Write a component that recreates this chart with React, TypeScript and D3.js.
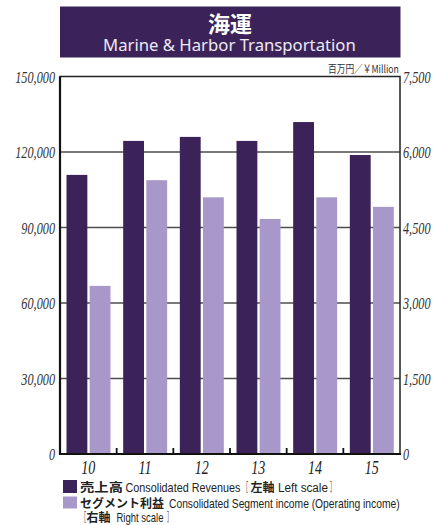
import React, { useRef, useLayoutEffect } from 'react'
import * as d3 from 'd3'

// fiscal years (x axis)
const years = ['10', '11', '12', '13', '14', '15']
// 売上高 (left scale, ¥ million)
const revenues = [110900, 124400, 126000, 124400, 131900, 118800]
// セグメント利益 (right scale, ¥ million)
const segmentIncome = [3340, 5440, 5100, 4670, 5100, 4910]

const leftTicks = [0, 30000, 60000, 90000, 120000, 150000]
const rightTicks = [0, 1500, 3000, 4500, 6000, 7500]

const DARK = '#3b2359'
const LIGHT = '#a898c9'
const NUM_FONT = '"Liberation Serif", "Times New Roman", serif'
const SANS = '"Noto Sans", "Noto Sans CJK JP", sans-serif'
const NARROW = '"Liberation Sans Narrow", "Liberation Sans", Arial, sans-serif'
const CJK = '"Noto Sans CJK JP", "Noto Sans", sans-serif'

const fmt = d3.format(',')

// italic, narrow numerals like the original print font
const NarrowNum = ({ x, y, anchor, size, children }) => (
    <text transform={`translate(${x},${y}) scale(0.72,1)`} textAnchor={anchor}
        fontFamily={NUM_FONT} fontStyle="italic" fontSize={size} fill="#333">{children}</text>
)

// text squeezed horizontally to the printed width (measured, then scaled)
const Fit = ({ x, y, w, size = 12, bold = false, font = NARROW, fill = '#222', children }) => {
    const ref = useRef(null)
    useLayoutEffect(() => {
        const el = ref.current
        const n = el.getComputedTextLength()
        if (n > 0) el.setAttribute('transform', `translate(${x},${y}) scale(${w / n},1)`)
    }, [x, y, w])
    return <text ref={ref} transform={`translate(${x},${y})`}
        fontFamily={font} fontWeight={bold ? 'bold' : 'normal'}
        fontSize={size} fill={fill}>{children}</text>
}

export default function App() {
    const width = 443, height = 525
    const left = 60, right = 400, top = 76.5, bottom = 454

    const x = d3.scaleBand().domain(years).range([left, right])
    const inner = d3.scaleBand().domain(['rev', 'inc']).range([6.5, 50.5]).paddingInner(0.1)
    const yL = d3.scaleLinear().domain([0, 150000]).range([bottom, top])
    const yR = d3.scaleLinear().domain([0, 7500]).range([bottom, top])

    return (
        <svg width={width} height={height} style={{ position: 'absolute', left: 0, top: 0 }}>
            {/* title */}
            <rect x={60} y={6.5} width={340.5} height={51} fill="#3b2359" />
            <text x={230} y={31.5} textAnchor="middle" fontFamily={CJK} fontWeight="bold" fontSize={22} fill="#fff">海運</text>
            <Fit x={103} y={51} w={253} size={16.5} font={SANS} fill="#eeeaf4">Marine &amp; Harbor Transportation</Fit>
            <Fit x={328} y={73} w={71} size={11} font={CJK} fill="#333">百万円／￥Million</Fit>

            {/* grid */}
            <g>
                {leftTicks.slice(1, -1).map(d => (
                    <line key={d} x1={left} x2={right} y1={yL(d)} y2={yL(d)} stroke="#4d4d4d" strokeWidth={1.6} />
                ))}
            </g>

            {/* bars */}
            <g>
                {years.map((yr, i) => (
                    <g key={yr}>
                        <rect x={x(yr) + inner('rev')} width={inner.bandwidth()} y={yL(revenues[i])}
                            height={bottom - yL(revenues[i])} fill={DARK} />
                        <rect x={x(yr) + inner('inc')} width={inner.bandwidth()} y={yR(segmentIncome[i])}
                            height={bottom - yR(segmentIncome[i])} fill={LIGHT} />
                    </g>
                ))}
            </g>

            {/* frame */}
            <rect x={left} y={top} width={right - left} height={bottom - top} fill="none" stroke="#222" strokeWidth={1.5} />
            <line x1={left} x2={left} y1={top} y2={bottom + 1} stroke="#111" strokeWidth={2.2} />
            <line x1={left} x2={right + 1} y1={bottom} y2={bottom} stroke="#111" strokeWidth={2.2} />
            {years.slice(1).map(yr => (
                <line key={yr} x1={x(yr)} x2={x(yr)} y1={bottom - 6} y2={bottom} stroke="#111" strokeWidth={1.8} />
            ))}

            {/* axis labels */}
            {leftTicks.map(d => (
                <NarrowNum key={d} x={55} y={yL(d) + 6} anchor="end" size={17}>{fmt(d)}</NarrowNum>
            ))}
            {rightTicks.map(d => (
                <NarrowNum key={d} x={403} y={yR(d) + 6} anchor="start" size={17}>{fmt(d)}</NarrowNum>
            ))}
            {years.map(yr => (
                <text key={yr} transform={`translate(${x(yr) + x.bandwidth() / 2},474) scale(0.76,1)`} textAnchor="middle"
                    fontFamily={NUM_FONT} fontStyle="italic" fontSize={18.5} fill="#222">{yr}</text>
            ))}

            {/* legend */}
            <rect x={63} y={480} width={14} height={13} fill={DARK} />
            <Fit x={80} y={492} w={43} bold font={CJK}>売上高</Fit>
            <Fit x={125.5} y={492} w={115}>Consolidated Revenues</Fit>
            <Fit x={243} y={492} w={5} font={CJK}>［</Fit>
            <Fit x={250.5} y={492} w={24} bold font={CJK}>左軸</Fit>
            <Fit x={278} y={492} w={50}>Left scale</Fit>
            <Fit x={330} y={492} w={5} font={CJK}>］</Fit>

            <rect x={63} y={496.5} width={14} height={12} fill={LIGHT} />
            <Fit x={80} y={507.5} w={84} bold font={CJK}>セグメント利益</Fit>
            <Fit x={169} y={507.5} w={231}>Consolidated Segment income (Operating income)</Fit>

            <Fit x={81} y={521.5} w={5} font={CJK}>［</Fit>
            <Fit x={86.5} y={521.5} w={24} bold font={CJK}>右軸</Fit>
            <Fit x={116.5} y={521.5} w={47}>Right scale</Fit>
            <Fit x={167} y={521.5} w={5} font={CJK}>］</Fit>
        </svg>
    )
}
